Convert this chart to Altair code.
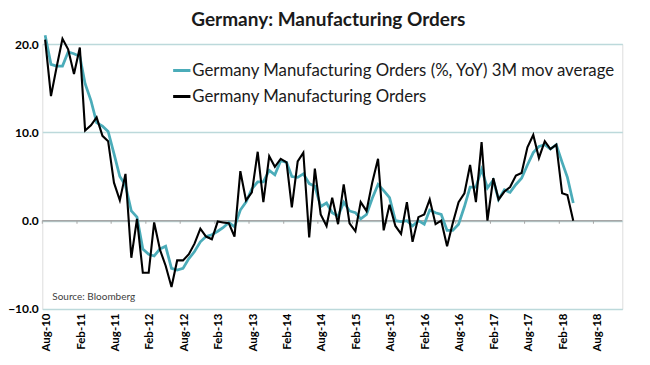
import altair as alt
import pandas as pd

S_AVG = "Germany Manufacturing Orders (%, YoY) 3M mov average"
S_RAW = "Germany Manufacturing Orders"
TITLE = "Germany: Manufacturing Orders"
SOURCE = "Source: Bloomberg"

# Monthly observations, Aug-2010 .. Apr-2018
start_month = "2010-08-01"
n_months = 93

raw_orders = [
    20.5, 14.1, 17.4, 20.6, 19.4, 16.6, 19.6, 10.2, 10.8, 11.7, 9.6, 9.0,
    4.3, 2.3, 5.3, -4.2, 0.2, -5.9, -5.9, -0.2, -3.3, -5.1, -7.5, -4.5,
    -4.5, -3.8, -2.6, -0.9, -1.8, -2.1, -0.1, -0.2, -0.3, -1.8, 5.6, 2.3,
    3.2, 7.8, 2.1, 7.3, 6.1, 7.0, 6.6, 1.5, 6.7, 7.7, -1.9, 5.9,
    0.7, -0.6, 2.6, -0.4, 4.1, -0.3, -1.2, 2.1, 1.1, 4.3, 7.0, -1.1,
    1.8, -0.6, -1.5, 2.1, -2.4, 0.4, 0.7, 2.4, -0.4, 0.0, -2.9, -0.3,
    2.1, 3.1, 6.3, 2.1, 8.9, 0.0, 4.8, 2.4, 3.3, 3.8, 5.1, 5.4,
    8.3, 9.7, 7.1, 9.0, 8.1, 8.6, 3.1, 2.9, 0.0,
]

avg_orders = [
    21.0, 17.7, 17.5, 17.5, 19.1, 18.9, 18.6, 15.5, 13.6, 11.1, 10.7, 10.1,
    7.6, 5.0, 4.0, 1.1, 0.4, -3.2, -3.8, -4.0, -3.2, -2.9, -5.4, -5.6,
    -5.4, -4.3, -3.5, -2.4, -1.8, -1.6, -1.2, -0.8, -0.2, -0.7, 1.2, 2.1,
    3.6, 4.4, 4.4, 5.7, 5.2, 6.8, 6.6, 5.0, 4.9, 5.3, 4.2, 3.9,
    1.6, 2.0, 0.9, 0.5, 2.1, 1.1, 0.9, 0.2, 0.7, 2.5, 4.1, 3.4,
    2.6, 0.0, -0.1, 0.0, -0.6, 0.0, -0.4, 1.2, 0.9, 0.7, -1.1, -1.1,
    -0.4, 1.6, 3.8, 3.8, 5.8, 3.7, 4.6, 2.4, 3.5, 3.2, 4.1, 4.8,
    6.3, 7.7, 8.4, 8.6, 8.1, 8.6, 6.6, 4.9, 2.0,
]

tick_dates = [
    (2010, 8), (2011, 2), (2011, 8), (2012, 2), (2012, 8), (2013, 2),
    (2013, 8), (2014, 2), (2014, 8), (2015, 2), (2015, 8), (2016, 2),
    (2016, 8), (2017, 2), (2017, 8), (2018, 2), (2018, 8),
]
y_ticks = [-10, 0, 10, 20]

months = pd.date_range(start_month, periods=n_months, freq="MS")
dates = [(m + pd.Timedelta(days=15)).strftime("%Y-%m-%dT00:00:00") for m in months]

df = pd.DataFrame({
    "date": dates * 2,
    "value": avg_orders + raw_orders,
    "series": [S_AVG] * n_months + [S_RAW] * n_months,
})
ticks_df = pd.DataFrame({"date": [f"{y}-{m:02d}-01T00:00:00" for y, m in tick_dates]})

FONT = "Lato"
TEAL = "#4BACB9"

X = alt.X(
    "date:T",
    scale=alt.Scale(domain=[alt.DateTime(year=2010, month=8, date=1),
                            alt.DateTime(year=2019, month=1, date=1)]),
    axis=alt.Axis(
        values=[alt.DateTime(year=y, month=m, date=1) for y, m in tick_dates],
        format="%b-%y", labelAngle=270, domain=False, ticks=False, grid=False,
        labelFont=FONT, labelFontWeight="bold", labelFontSize=11.5,
        labelColor="#000000", labelPadding=4, labelOffset=4, title=None,
    ),
)
Y = alt.Y(
    "value:Q",
    scale=alt.Scale(domain=[-10, 20], nice=False),
    axis=alt.Axis(
        values=y_ticks, format=".1f", domain=False, ticks=False, grid=True,
        gridColor="#BCD9DB", gridWidth=1.5, labelFont=FONT,
        labelFontWeight="bold", labelFontSize=12, labelColor="#000000",
        labelPadding=4, title=None,
    ),
)
color = alt.Color(
    "series:N",
    scale=alt.Scale(domain=[S_AVG, S_RAW], range=[TEAL, "#000000"]),
    legend=alt.Legend(
        title=None, orient="none", legendX=129, legendY=16, padding=0,
        symbolType="stroke", symbolSize=300, symbolStrokeWidth=3,
        labelFont=FONT, labelFontSize=16.8, labelColor="#1a1a1a",
        labelOffset=0, rowPadding=6, labelLimit=600,
    ),
)

zero_line = alt.Chart(pd.DataFrame({"z": [0]})).mark_rule(
    color="#A6A6A6", strokeWidth=1.5
).encode(y=alt.datum(0))

zero_ticks = alt.Chart(ticks_df).mark_rule(color="#A6A6A6", strokeWidth=1).encode(
    x=X, y=alt.datum(0), y2=alt.datum(-0.35)
)

avg_line = alt.Chart(df[df.series == S_AVG]).mark_line(
    strokeWidth=2.75, clip=False
).encode(x=X, y=Y, color=color)

raw_line = alt.Chart(df[df.series == S_RAW]).mark_line(
    strokeWidth=2.1, clip=False
).encode(x=X, y=Y, color=color)

source = alt.Chart(pd.DataFrame({"t": [SOURCE]})).mark_text(
    align="left", baseline="middle", font=FONT, fontSize=10, color="#404040"
).encode(text="t:N", x=alt.value(10), y=alt.value(253))

title = alt.Chart(pd.DataFrame({"t": [TITLE]})).mark_text(
    align="center", baseline="middle", font=FONT, fontSize=19,
    fontWeight="bold", color="#1a1a1a", clip=False
).encode(text="t:N", x=alt.value(286), y=alt.value(-24))

chart = alt.layer(zero_line, zero_ticks, avg_line, raw_line, source, title).properties(
    width=580, height=265,
    autosize=alt.AutoSizeParams(type="none"),
    padding={"left": 34.3, "top": 36, "right": 12, "bottom": 48},
).configure_view(stroke=None).configure(background="#ffffff")

chart.save("out.html", embed_options={"renderer": "svg", "actions": False})
